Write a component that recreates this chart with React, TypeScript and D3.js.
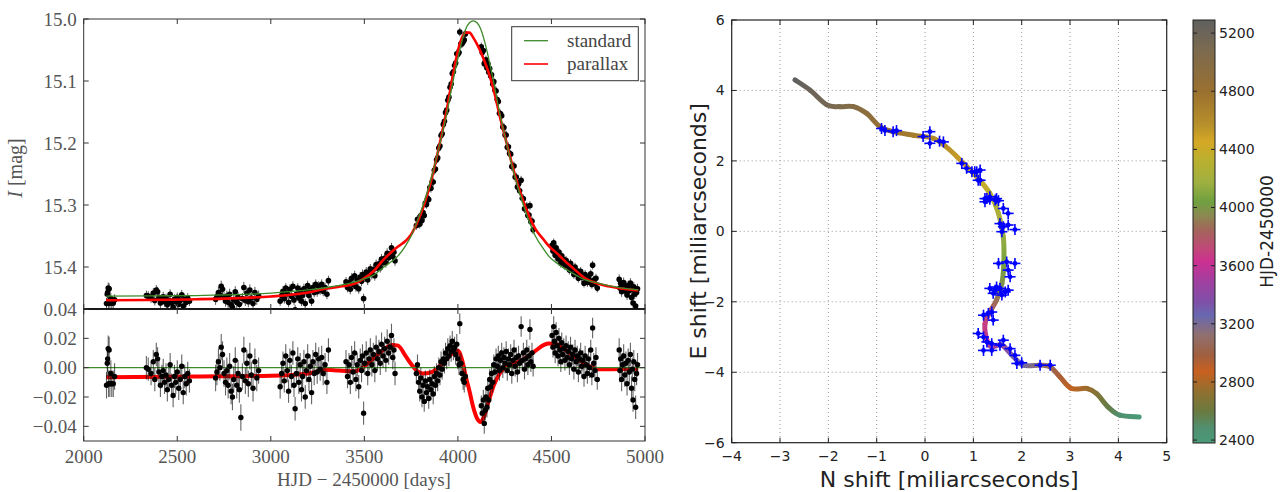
import React from "react";
import * as d3 from "d3";

// ---------------- Light-curve models (HJD - 2450000) ----------------
const modelT = [2120,2600,3000,3200,3300,3360,3450,3490,3550,3600,3650,3680,3720,3750,3790,3812,3860,3902,3940,3972,4000,4025,4042,4062,4082,4102,4122,4139,4164,4192,4224,4262,4304,4352,4414,4460,4484,4530,4564,4620,4674,4750,4804,4964];
const standardMag = [15.447,15.446,15.442,15.437,15.433,15.430,15.424,15.420,15.413,15.401,15.390,15.382,15.366,15.350,15.320,15.302,15.254,15.203,15.153,15.103,15.063,15.032,15.016,15.006,15.003,15.006,15.016,15.032,15.063,15.103,15.153,15.203,15.254,15.302,15.350,15.372,15.382,15.394,15.401,15.411,15.420,15.426,15.430,15.437];
const parallaxMag = [15.4535,15.452,15.4475,15.441,15.4345,15.432,15.4265,15.420,15.4065,15.389,15.3745,15.367,15.358,15.3475,15.323,15.306,15.257,15.202,15.147,15.093,15.0515,15.028,15.022,15.022,15.030,15.0405,15.053,15.0655,15.086,15.115,15.157,15.202,15.251,15.296,15.3385,15.3565,15.3655,15.378,15.388,15.403,15.417,15.427,15.431,15.4378];
const parallaxRes = [-0.0065,-0.006,-0.0055,-0.004,-0.0015,-0.002,-0.0025,0.000,0.0065,0.012,0.0155,0.015,0.008,0.0025,-0.003,-0.004,-0.003,0.001,0.006,0.010,0.0115,0.004,-0.006,-0.016,-0.027,-0.0345,-0.037,-0.0335,-0.023,-0.012,-0.004,0.001,0.003,0.006,0.0115,0.0155,0.0165,0.016,0.013,0.008,0.003,-0.001,-0.001,-0.0008];

// ---------------- Photometric observations ----------------
const obsT = [
  2122,2126,2128,2131,2133,2136,2140,2145,2150,2158,2165,
  2335,2345,2360,2372,2380,2388,2395,2402,2410,2418,2425,2432,2440,2447,2455,2462,2470,2478,2485,2492,2500,2508,2516,2524,2532,2540,2548,2556,2565,
  2705,2712,2720,2728,2735,2742,2750,2758,2765,2772,2780,2788,2795,2802,2810,2818,2825,2832,2840,2848,2856,2864,2872,2880,2888,2896,2905,2915,2925,2935,
  3050,3058,3065,3072,3080,3088,3095,3102,3110,3118,3124,3130,3137,3144,3150,3157,3164,3170,3177,3184,3190,3197,3204,3211,3218,3225,3232,3240,3248,3256,3264,3272,3280,3290,3300,3308,
  3402,3410,3418,3425,3432,3440,3448,3455,3462,3470,3478,3485,3490,3496,3502,3510,3518,3525,3532,3540,3548,3556,3563,3570,3578,3585,3592,3600,3608,3615,3622,3630,3638,3645,3652,3658,3664,
  3778,3784,3790,3796,3802,3808,3814,3820,3826,3832,3838,3844,3850,3856,3862,3868,3874,3880,3886,3892,3898,3904,3910,3916,3922,3928,3934,3940,3946,3952,3958,3964,3970,3976,3982,3988,3994,4000,4006,4010,4016,4022,4028,4034,4040,
  4125,4130,4136,4141,4146,4150,4155,4160,4165,4170,4175,4180,4186,4192,4198,4204,4210,4216,4222,4228,4234,4240,4246,4252,4258,4264,4270,4276,4282,4288,4294,4300,4306,4312,4318,4324,4330,4338,4344,4350,4356,4362,4368,4374,4380,4385,4390,4396,4402,
  4503,4508,4512,4516,4520,4525,4530,4535,4540,4545,4550,4555,4560,4566,4572,4578,4584,4590,4596,4602,4608,4614,4620,4626,4632,4638,4644,4650,4656,4662,4668,4674,4680,4686,4692,4698,4704,4710,4716,4720,4726,4732,4738,4745,
  4862,4866,4870,4875,4880,4886,4892,4898,4904,4910,4916,4922,4928,4932,4936,4940,4945,4950,4955,4960,
];
const obsMag = [
  15.459,15.444,15.441,15.434,15.458,15.435,15.458,15.451,15.458,15.458,15.453,
  15.446,15.447,15.450,15.442,15.454,15.437,15.440,15.449,15.458,15.452,15.448,15.456,15.451,15.461,15.454,15.444,15.458,15.465,15.452,15.456,15.449,15.460,15.454,15.445,15.463,15.452,15.457,15.450,15.455,
  15.452,15.448,15.441,15.445,15.431,15.436,15.449,15.455,15.447,15.457,15.444,15.461,15.465,15.453,15.440,15.457,15.449,15.460,15.479,15.451,15.433,15.454,15.442,15.456,15.437,15.450,15.459,15.441,15.452,15.447,
  15.455,15.446,15.439,15.451,15.434,15.443,15.457,15.436,15.447,15.431,15.453,15.469,15.444,15.434,15.450,15.438,15.455,15.446,15.435,15.459,15.440,15.430,15.446,15.437,15.455,15.433,15.441,15.428,15.440,15.431,15.437,15.428,15.439,15.433,15.444,15.422,
  15.424,15.433,15.425,15.436,15.418,15.428,15.414,15.432,15.421,15.435,15.416,15.423,15.412,15.451,15.416,15.408,15.421,15.410,15.403,15.412,15.404,15.414,15.396,15.402,15.395,15.401,15.387,15.393,15.386,15.393,15.378,15.385,15.379,15.369,15.383,15.376,15.390,
  15.333,15.323,15.330,15.331,15.317,15.325,15.312,15.317,15.297,15.299,15.289,15.291,15.272,15.273,15.263,15.263,15.244,15.242,15.227,15.224,15.208,15.205,15.188,15.185,15.170,15.165,15.151,15.147,15.131,15.126,15.110,15.105,15.088,15.085,15.075,15.071,15.056,15.057,15.054,15.021,15.040,15.040,15.037,15.034,15.024,
  15.045,15.054,15.051,15.072,15.069,15.066,15.079,15.072,15.086,15.080,15.092,15.090,15.105,15.101,15.115,15.116,15.130,15.133,15.152,15.153,15.156,15.174,15.175,15.187,15.187,15.207,15.206,15.217,15.218,15.238,15.237,15.237,15.255,15.255,15.271,15.266,15.277,15.260,15.289,15.290,15.306,15.304,15.302,15.317,15.316,15.301,15.327,15.326,15.340,
  15.365,15.374,15.361,15.372,15.381,15.369,15.379,15.387,15.376,15.385,15.394,15.382,15.391,15.388,15.398,15.389,15.398,15.395,15.405,15.394,15.403,15.401,15.412,15.400,15.409,15.406,15.418,15.410,15.407,15.417,15.414,15.426,15.412,15.419,15.425,15.416,15.422,15.411,15.428,15.397,15.421,15.427,15.418,15.434,
  15.420,15.434,15.426,15.440,15.431,15.425,15.438,15.431,15.445,15.430,15.438,15.426,15.449,15.436,15.458,15.432,15.444,15.463,15.441,15.435,
];
const obsRes = [
  -0.012,0.003,0.006,0.013,-0.011,0.012,-0.011,-0.004,-0.011,-0.011,-0.006,
  0.000,-0.001,-0.004,0.004,-0.008,0.009,0.006,-0.003,-0.012,-0.006,-0.002,-0.010,-0.005,-0.015,-0.008,0.002,-0.012,-0.019,-0.006,-0.010,-0.003,-0.014,-0.008,0.001,-0.017,-0.006,-0.011,-0.004,-0.009,
  -0.007,-0.003,0.004,0.000,0.014,0.009,-0.004,-0.010,-0.002,-0.012,0.001,-0.016,-0.020,-0.008,0.005,-0.012,-0.004,-0.015,-0.034,-0.006,0.012,-0.009,0.003,-0.011,0.008,-0.005,-0.014,0.004,-0.007,-0.002,
  -0.013,-0.004,0.003,-0.009,0.008,-0.002,-0.016,0.005,-0.006,0.010,-0.012,-0.028,-0.004,0.006,-0.010,0.002,-0.015,-0.006,0.004,-0.020,-0.002,0.008,-0.008,0.001,-0.017,0.004,-0.004,0.009,-0.003,0.006,-0.001,0.007,-0.004,0.002,-0.010,0.012,
  0.004,-0.006,0.002,-0.010,0.007,-0.003,0.010,-0.008,0.002,-0.013,0.005,-0.002,0.008,-0.031,0.003,0.010,-0.004,0.006,0.012,0.002,0.009,-0.002,0.014,0.006,0.011,0.003,0.016,0.008,0.013,0.005,0.018,0.010,0.014,0.022,0.007,0.012,-0.004,
  -0.004,0.002,-0.010,-0.016,-0.007,-0.020,-0.012,-0.023,-0.009,-0.017,-0.013,-0.021,-0.008,-0.015,-0.011,-0.018,-0.006,-0.012,-0.004,-0.009,0.000,-0.005,0.004,-0.001,0.006,0.003,0.010,0.006,0.013,0.008,0.015,0.011,0.018,0.012,0.014,0.009,0.016,0.006,0.002,0.030,0.003,-0.004,-0.008,-0.010,-0.006,
  -0.026,-0.031,-0.022,-0.038,-0.029,-0.020,-0.027,-0.014,-0.022,-0.008,-0.013,-0.004,-0.010,0.002,-0.003,0.006,0.001,0.008,-0.002,0.005,0.010,0.000,0.007,0.003,0.011,-0.002,0.006,0.002,0.009,-0.004,0.005,0.012,0.001,0.007,-0.003,0.008,0.003,0.028,0.005,0.010,-0.001,0.006,0.012,0.002,0.008,0.026,0.004,0.010,0.001,
  0.022,0.014,0.028,0.018,0.010,0.024,0.015,0.008,0.020,0.012,0.004,0.017,0.009,0.013,0.005,0.015,0.007,0.011,0.002,0.014,0.006,0.009,-0.001,0.012,0.004,0.008,-0.003,0.006,0.010,0.001,0.005,-0.006,0.008,0.002,-0.004,0.006,0.000,0.012,-0.005,0.027,0.003,-0.002,0.007,-0.008,
  0.012,-0.002,0.006,-0.008,0.002,0.008,-0.005,0.003,-0.011,0.005,-0.003,0.009,-0.014,-0.001,-0.022,0.004,-0.008,-0.027,-0.004,0.002,
];
const seasonStart = [2100, 2300, 2690, 3040, 3390, 3770, 4110, 4490, 4850];
const seasonErr = [0.009, 0.008, 0.009, 0.008, 0.008, 0.007, 0.007, 0.007, 0.008];

// ---------------- Astrometric trajectory ----------------
const pathN = [4.43,4.03,3.79,3.55,3.35,3.03,2.79,2.59,2.38,2.03,1.83,1.59,1.38,1.28,1.24,1.34,1.48,1.59,1.63,1.62,1.52,1.34,1.07,0.66,0.42,0.17,-0.24,-0.66,-0.93,-1.21,-1.48,-1.76,-2.03,-2.38,-2.69];
const pathE = [-5.27,-5.22,-4.99,-4.61,-4.46,-4.46,-4.13,-3.85,-3.80,-3.80,-3.56,-3.23,-3.28,-3.09,-2.62,-2.29,-1.95,-1.48,-0.91,-0.16,0.51,1.08,1.55,2.12,2.42,2.64,2.73,2.83,2.97,3.35,3.54,3.54,3.59,4.01,4.30];
const pathT = [2380,2480,2580,2680,2760,2850,2950,3040,3120,3220,3310,3420,3500,3580,3680,3780,3880,3980,4060,4150,4240,4330,4420,4520,4570,4620,4700,4780,4850,4920,4990,5060,5130,5210,5290];

const astN = [-0.90,-0.83,-0.66,-0.59,-0.04,0.10,0.10,0.38,0.30,0.76,0.86,0.97,1.07,1.14,1.03,1.14,1.10,1.28,1.34,1.45,1.52,1.24,1.34,1.48,1.24,1.62,1.72,1.55,1.62,1.72,1.86,1.59,1.52,1.69,1.86,1.72,1.76,1.34,1.45,1.55,1.66,1.41,1.59,1.72,1.48,1.21,1.31,1.41,1.38,1.10,1.21,1.28,1.21,1.38,1.55,1.62,1.38,1.76,1.86,1.90,2.00,2.38,2.59];
const astE = [2.92,2.86,2.83,2.86,2.69,2.83,2.50,2.54,2.56,1.93,1.79,1.69,1.69,1.45,1.69,1.74,1.45,0.93,0.91,0.89,0.87,0.93,0.98,0.93,0.84,0.65,0.51,0.22,0.13,0.18,0.05,-0.01,-0.91,-0.87,-0.91,-1.10,-1.29,-1.62,-1.67,-1.62,-1.72,-1.76,-1.81,-1.67,-1.58,-2.38,-2.33,-2.52,-2.29,-2.90,-3.00,-3.14,-3.38,-3.19,-3.23,-3.09,-3.38,-3.33,-3.52,-3.75,-3.73,-3.80,-3.80];

// ---------------- Colour bar ----------------
const cbValues = [2380,2482,2596,2734,2871,2985,3123,3260,3352,3490,3627,3719,3857,3948,4040,4178,4315,4453,4568,4797,5097,5290];
const cbColors = ["#4a9a78","#509070","#6a7a40","#907030","#c86020","#a06040","#907070","#6868b0","#8050a8","#a040a0","#cc3090","#c04878","#a06858","#8a8a50","#70a040","#a0b040","#b8b030","#d4a825","#b8902a","#9a7030","#7a6a50","#606060"];
const cbTicks = [2400,2800,3200,3600,4000,4400,4800,5200];

// ---------------- Tick lists ----------------
const hjdTicks = [2000,2500,3000,3500,4000,4500,5000];
const magTicks = [15.0,15.1,15.2,15.3,15.4];
const resTicks = [0.04,0.02,0.0,-0.02,-0.04];
const nTicks = [-4,-3,-2,-1,0,1,2,3,4,5];
const eTicks = [-6,-4,-2,0,2,4,6];

const SERIF = "'Liberation Serif','DejaVu Serif',serif";
const SANS = "'DejaVu Sans','Liberation Sans',sans-serif";

const fmtMinus = (s: string) => s.replace("-", "\u2212");

export default function App() {
  const xL = d3.scaleLinear().domain([2000, 5000]).range([83.7, 645]);
  const yT = d3.scaleLinear().domain([15.0, 15.4677]).range([19, 309]);
  const yB = d3.scaleLinear().domain([-0.05, 0.04]).range([441, 309]);
  const xR = d3.scaleLinear().domain([-4, 5]).range([731.7, 1166.7]);
  const yR = d3.scaleLinear().domain([-6, 6]).range([442.7, 20]);
  const yC = d3.scaleLinear().domain([2380, 5290]).range([443, 20]);
  const color = d3.scaleLinear<string>().domain(cbValues).range(cbColors).interpolate(d3.interpolateRgb);

  const errFor = (t: number) => {
    let k = 0;
    seasonStart.forEach((s, i) => { if (t >= s) k = i; });
    return seasonErr[k];
  };

  const lineT = d3.line<number>().x((_, i) => xL(modelT[i])).y((v) => yT(v)).curve(d3.curveMonotoneX);
  const lineB = d3.line<number>().x((_, i) => xL(modelT[i])).y((v) => yB(v)).curve(d3.curveMonotoneX);

  const [lx0, lx1] = xL.range();
  const axisCol = "#333";
  const txtCol = "#555";

  const P = pathN.map((n, i) => [xR(n), yR(pathE[i])]);
  const segs = P.slice(0, -1).map((p1, i) => {
    const p0 = P[Math.max(i - 1, 0)];
    const p2 = P[i + 1];
    const p3 = P[Math.min(i + 2, P.length - 1)];
    const c1 = [p1[0] + (p2[0] - p0[0]) / 6, p1[1] + (p2[1] - p0[1]) / 6];
    const c2 = [p2[0] - (p3[0] - p1[0]) / 6, p2[1] - (p3[1] - p1[1]) / 6];
    return { p1, p2, d: `M${p1[0]},${p1[1]}C${c1[0]},${c1[1]} ${c2[0]},${c2[1]} ${p2[0]},${p2[1]}`, c1: color(pathT[i]), c2: color(pathT[i + 1]) };
  });

  const tickLen = 5;

  return (
    <svg width={1282} height={492} style={{ position: "absolute", left: 0, top: 0, background: "#fff" }}>
      <defs>
        <clipPath id="clipTop"><rect x={lx0} y={19} width={lx1 - lx0} height={290} /></clipPath>
        <clipPath id="clipBot"><rect x={lx0} y={309} width={lx1 - lx0} height={132} /></clipPath>
        <linearGradient id="cbGrad" x1="0" y1="1" x2="0" y2="0">
          {cbValues.map((v, i) => (
            <stop key={i} offset={(v - 2380) / (5290 - 2380)} stopColor={cbColors[i]} />
          ))}
        </linearGradient>
        {segs.map((s, i) => (
          <linearGradient key={i} id={`seg${i}`} gradientUnits="userSpaceOnUse" x1={s.p1[0]} y1={s.p1[1]} x2={s.p2[0]} y2={s.p2[1]}>
            <stop offset="0" stopColor={s.c1} />
            <stop offset="1" stopColor={s.c2} />
          </linearGradient>
        ))}
      </defs>
      <rect x={0} y={0} width={1282} height={492} fill="#fff" />

      {/* ============ LEFT: top light-curve panel ============ */}
      <g clipPath="url(#clipTop)">
        {obsT.map((t, i) => {
          const e = errFor(t);
          return <line key={"et" + i} x1={xL(t)} x2={xL(t)} y1={yT(obsMag[i] - e)} y2={yT(obsMag[i] + e)} stroke="#111" strokeOpacity={0.7} strokeWidth={1} />;
        })}
        {obsT.map((t, i) => (
          <circle key={"pt" + i} cx={xL(t)} cy={yT(obsMag[i])} r={2.8} fill="#000" />
        ))}
        <path d={lineT(parallaxMag) || ""} fill="none" stroke="#ff0000" strokeWidth={2.6} />
        <path d={lineT(standardMag) || ""} fill="none" stroke="#3d8a2a" strokeWidth={1.3} />
      </g>

      {/* ============ LEFT: residual panel ============ */}
      <g clipPath="url(#clipBot)">
        <path d={lineB(parallaxRes) || ""} fill="none" stroke="#ff0000" strokeWidth={4} />
        <line x1={lx0} x2={lx1} y1={yB(0)} y2={yB(0)} stroke="#3d8a2a" strokeWidth={1.2} />
        {obsT.map((t, i) => {
          const e = errFor(t);
          return <line key={"eb" + i} x1={xL(t)} x2={xL(t)} y1={yB(obsRes[i] - e)} y2={yB(obsRes[i] + e)} stroke="#111" strokeOpacity={0.65} strokeWidth={1.1} />;
        })}
        {obsT.map((t, i) => (
          <circle key={"pb" + i} cx={xL(t)} cy={yB(obsRes[i])} r={2.7} fill="#000" />
        ))}
      </g>

      {/* frames */}
      <rect x={lx0} y={19} width={lx1 - lx0} height={290} fill="none" stroke={axisCol} strokeWidth={1} />
      <rect x={lx0} y={309} width={lx1 - lx0} height={132} fill="none" stroke={axisCol} strokeWidth={1} />
      <line x1={lx0} x2={lx1} y1={309} y2={309} stroke="#000" strokeWidth={1.6} />

      {hjdTicks.map((t) => (
        <g key={"xt" + t} stroke={axisCol} strokeWidth={1}>
          <line x1={xL(t)} x2={xL(t)} y1={19} y2={19 + tickLen} />
          <line x1={xL(t)} x2={xL(t)} y1={309} y2={309 - tickLen} />
          <line x1={xL(t)} x2={xL(t)} y1={309} y2={309 + tickLen} />
          <line x1={xL(t)} x2={xL(t)} y1={441} y2={441 - tickLen} />
        </g>
      ))}
      {hjdTicks.map((t) => (
        <text key={"xl" + t} x={xL(t)} y={463} textAnchor="middle" fontFamily={SERIF} fontSize={19} fill={txtCol}>{t}</text>
      ))}
      {magTicks.map((m) => (
        <g key={"mt" + m}>
          <line x1={lx0} x2={lx0 + tickLen} y1={yT(m)} y2={yT(m)} stroke={axisCol} />
          <line x1={lx1} x2={lx1 - tickLen} y1={yT(m)} y2={yT(m)} stroke={axisCol} />
          <text x={lx0 - 7} y={yT(m)} dy="0.35em" textAnchor="end" fontFamily={SERIF} fontSize={19} fill={txtCol}>{m.toFixed(1)}</text>
        </g>
      ))}
      {resTicks.map((r) => (
        <g key={"rt" + r}>
          <line x1={lx0} x2={lx0 + tickLen} y1={yB(r)} y2={yB(r)} stroke={axisCol} />
          <line x1={lx1} x2={lx1 - tickLen} y1={yB(r)} y2={yB(r)} stroke={axisCol} />
          <text x={lx0 - 7} y={yB(r)} dy="0.35em" textAnchor="end" fontFamily={SERIF} fontSize={19} fill={txtCol}>{fmtMinus(r.toFixed(2))}</text>
        </g>
      ))}
      <text transform="translate(22,168) rotate(-90)" textAnchor="middle" fontFamily={SERIF} fontSize={20} fill={txtCol}>
        <tspan fontStyle="italic">I</tspan> [mag]
      </text>
      <text x={364} y={486} textAnchor="middle" fontFamily={SERIF} fontSize={19} fill={txtCol}>HJD {"\u2212"} 2450000 [days]</text>

      {/* legend */}
      <rect x={511.7} y={26.7} width={126.6} height={54} fill="#fff" stroke={axisCol} strokeWidth={1} />
      <line x1={524} x2={548} y1={40.7} y2={40.7} stroke="#3d8a2a" strokeWidth={1.3} />
      <line x1={524} x2={548} y1={64} y2={64} stroke="#ff0000" strokeWidth={1.6} />
      <text x={567} y={40.7} dy="0.32em" fontFamily={SERIF} fontSize={19} fill="#444">standard</text>
      <text x={567} y={64} dy="0.32em" fontFamily={SERIF} fontSize={19} fill="#444">parallax</text>

      {/* ============ RIGHT: astrometric panel ============ */}
      {nTicks.slice(1, -1).map((n) => (
        <line key={"gx" + n} x1={xR(n)} x2={xR(n)} y1={yR(6)} y2={yR(-6)} stroke="#999" strokeWidth={1} strokeDasharray="1,3" />
      ))}
      {eTicks.slice(1, -1).map((e) => (
        <line key={"gy" + e} x1={xR(-4)} x2={xR(5)} y1={yR(e)} y2={yR(e)} stroke="#999" strokeWidth={1} strokeDasharray="1,3" />
      ))}
      {segs.map((s, i) => (
        <path key={"sg" + i} d={s.d} fill="none" stroke={`url(#seg${i})`} strokeWidth={5} strokeLinecap="round" />
      ))}
      {astN.map((n, i) => (
        <g key={"as" + i} stroke="#0000ff" strokeWidth={1.6}>
          <line x1={xR(n) - 5.5} x2={xR(n) + 5.5} y1={yR(astE[i])} y2={yR(astE[i])} />
          <line x1={xR(n)} x2={xR(n)} y1={yR(astE[i]) - 5.5} y2={yR(astE[i]) + 5.5} />
          <circle cx={xR(n)} cy={yR(astE[i])} r={2.4} fill="#0000ff" stroke="none" />
        </g>
      ))}
      <rect x={xR(-4)} y={yR(6)} width={xR(5) - xR(-4)} height={yR(-6) - yR(6)} fill="none" stroke="#222" strokeWidth={1.2} />
      {nTicks.map((n) => (
        <g key={"nt" + n}>
          <line x1={xR(n)} x2={xR(n)} y1={yR(-6)} y2={yR(-6) - tickLen} stroke="#222" />
          <line x1={xR(n)} x2={xR(n)} y1={yR(6)} y2={yR(6) + tickLen} stroke="#222" />
          <text x={xR(n)} y={461} textAnchor="middle" fontFamily={SANS} fontSize={14} fill="#222">{fmtMinus(String(n))}</text>
        </g>
      ))}
      {eTicks.map((e) => (
        <g key={"et" + e}>
          <line x1={xR(-4)} x2={xR(-4) + tickLen} y1={yR(e)} y2={yR(e)} stroke="#222" />
          <line x1={xR(5)} x2={xR(5) - tickLen} y1={yR(e)} y2={yR(e)} stroke="#222" />
          <text x={xR(-4) - 7} y={yR(e)} dy="0.35em" textAnchor="end" fontFamily={SANS} fontSize={14} fill="#222">{fmtMinus(String(e))}</text>
        </g>
      ))}
      <text transform={`translate(706,${(yR(6) + yR(-6)) / 2}) rotate(-90)`} textAnchor="middle" fontFamily={SANS} fontSize={22} fill="#222">E shift [miliarcseconds]</text>
      <text x={(xR(-4) + xR(5)) / 2} y={487} textAnchor="middle" fontFamily={SANS} fontSize={22} fill="#222">N shift [miliarcseconds]</text>

      {/* colour bar */}
      <rect x={1193} y={yC(5290)} width={22} height={yC(2380) - yC(5290)} fill="url(#cbGrad)" stroke="#222" strokeWidth={1} />
      {cbTicks.map((v) => (
        <g key={"cb" + v}>
          <line x1={1215} x2={1211} y1={yC(v)} y2={yC(v)} stroke="#222" />
          <line x1={1193} x2={1197} y1={yC(v)} y2={yC(v)} stroke="#222" />
          <text x={1219} y={yC(v)} dy="0.35em" fontFamily={SANS} fontSize={14} fill="#222">{v}</text>
        </g>
      ))}
      <text transform={`translate(1273,${(yC(2380) + yC(5290)) / 2}) rotate(-90)`} textAnchor="middle" fontFamily={SANS} fontSize={17} fill="#222">HJD-2450000</text>
    </svg>
  );
}
